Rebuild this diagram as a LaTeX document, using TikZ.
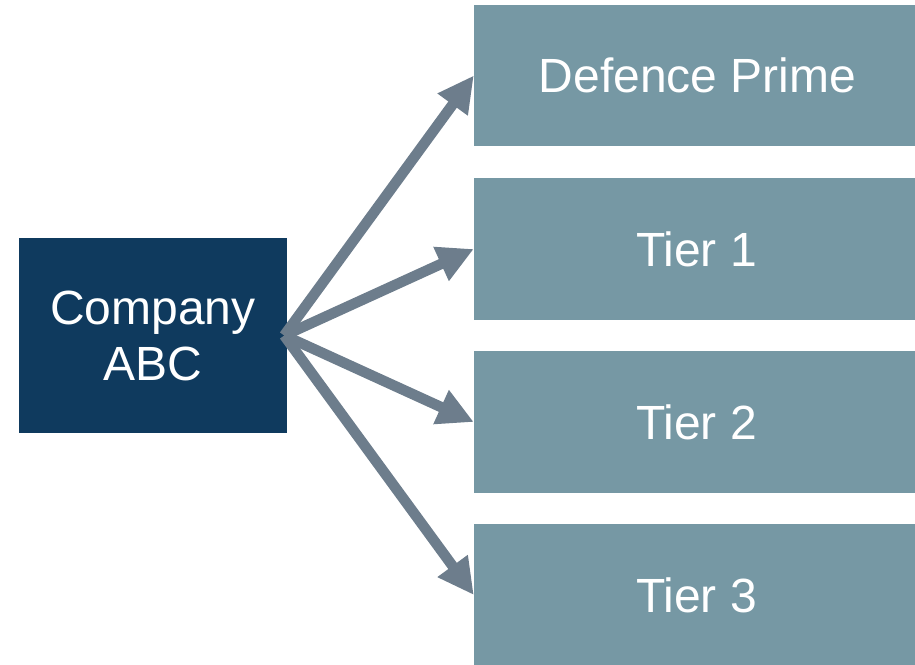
\documentclass[tikz,border=0pt]{standalone}
\usepackage{fontspec}
\setmainfont{Liberation Sans}
\usetikzlibrary{arrows.meta}
\definecolor{darkbox}{HTML}{0F3A5E}
\definecolor{tierbox}{HTML}{7698A4}
\definecolor{arrowcol}{HTML}{6D7D8C}
\begin{document}
\begin{tikzpicture}[x=1pt,y=-1pt,
  tierstyle/.style={fill=tierbox, text=white, inner sep=0pt, minimum width=441pt, minimum height=142pt, font=\fontsize{48}{57}\selectfont},
  companystyle/.style={fill=darkbox, text=white, inner sep=0pt, minimum width=268pt, minimum height=195pt, align=center, font=\fontsize{48}{57}\selectfont},
  conn/.style={draw=arrowcol, line width=10.5pt, -{Triangle[length=36pt,width=35pt]}}]
\useasboundingbox (0,0) rectangle (915,664);
\node[tierstyle, minimum height=141pt] (p) at (694.5,75.5) {\hspace*{6pt}Defence Prime};
\node[tierstyle] (t1) at (694.5,249) {\hspace*{4pt}Tier 1};
\node[tierstyle] (t2) at (694.5,422) {\hspace*{4pt}Tier 2};
\node[tierstyle] (t3) at (694.5,595) {\hspace*{4pt}Tier 3};
\node[companystyle] (c) at (153,335.5) {Company\\[-1pt]ABC};
\coordinate (o) at ([xshift=-3pt]c.east);
\draw[conn] (o) -- (p.west);
\draw[conn] (o) -- (t1.west);
\draw[conn] (o) -- (t2.west);
\draw[conn] (o) -- (t3.west);
\end{tikzpicture}
\end{document}
